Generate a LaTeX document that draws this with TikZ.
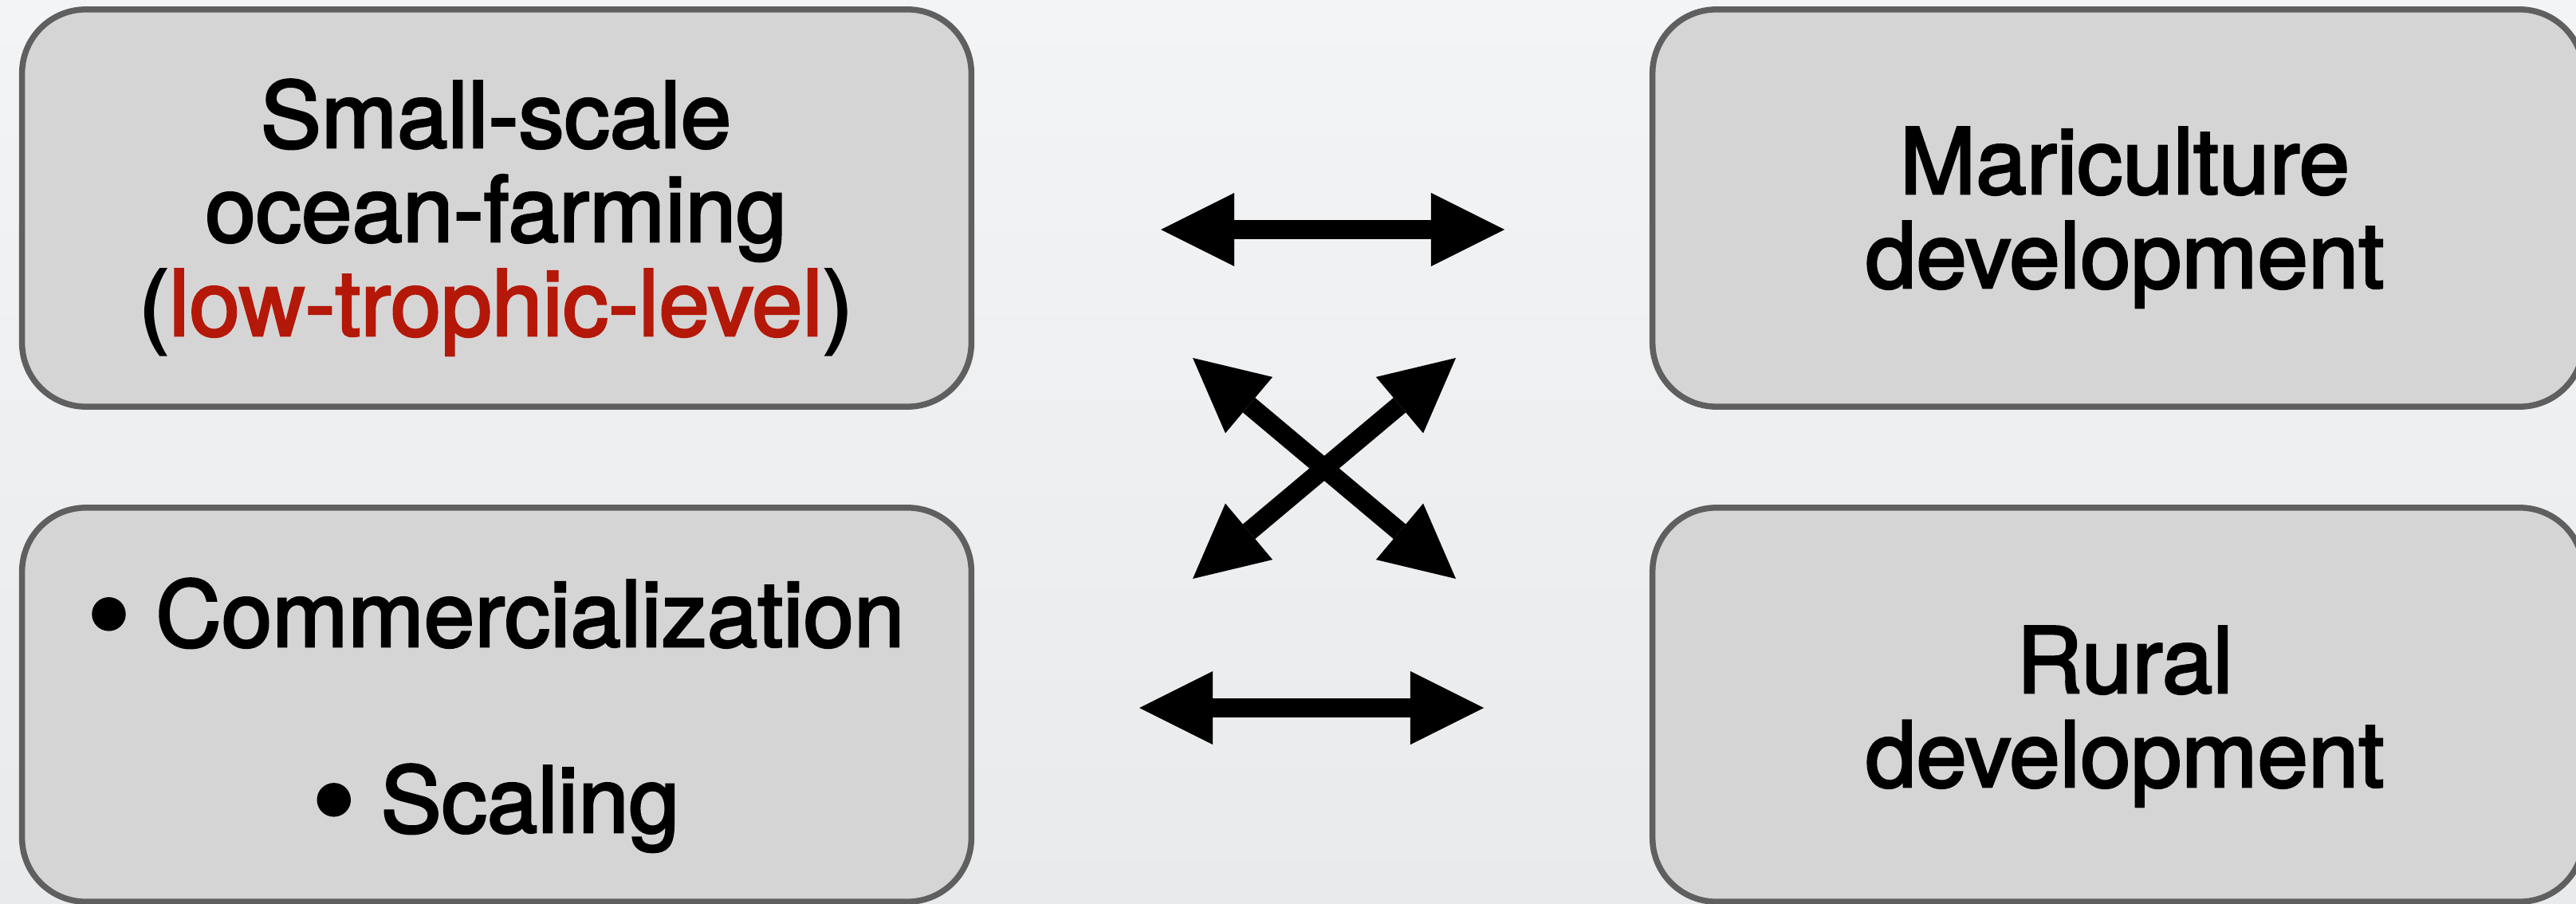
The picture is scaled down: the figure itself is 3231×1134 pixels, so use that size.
\documentclass[tikz,border=0pt]{standalone}
\usepackage{fontspec}
\setmainfont{TeX Gyre Heros}[FakeBold=2.5]
\usetikzlibrary{arrows.meta}
\definecolor{bgtop}{RGB}{242,244,246}
\definecolor{bgbot}{RGB}{232,234,236}
\definecolor{boxfill}{RGB}{213,213,213}
\definecolor{boxline}{RGB}{95,95,95}
\definecolor{redtxt}{RGB}{180,24,8}
\newcommand{\bigbul}{\raisebox{-0.11em}{\scalebox{1.35}{•}}}
\tikzset{
  panel/.style={draw=boxline, fill=boxfill, line width=0.075cm, rounded corners=0.8cm, inner sep=0pt},
  txt/.style={anchor=base, inner sep=0pt, font=\fontsize{32.5}{34}\selectfont},
  tip/.tip={Triangle[length=0.92cm, width=0.92cm, line width=0pt]},
  dbl/.style={line width=0.24cm, black, tip-tip}
}
\begin{document}
\begin{tikzpicture}[x=0.01cm, y=-0.01cm]
\useasboundingbox (0,0) rectangle (3231,1134);
\fill[top color=bgtop, bottom color=bgbot] (0,0) rectangle (3231,1134);
% boxes
\node[panel, minimum width=11.9cm, minimum height=4.98cm] (tl) at (623,261) {};
\node[panel, minimum width=11.67cm, minimum height=4.98cm] (tr) at (2656.5,261) {};
\node[panel, minimum width=11.9cm, minimum height=4.94cm] (bl) at (623,884) {};
\node[panel, minimum width=11.67cm, minimum height=4.94cm] (br) at (2656.5,884) {};
% texts
\node[txt] (tl1) at (622,185) {Small-scale};
\node[txt] (tl2) at (622,303) {ocean-farming};
\node[txt] (tl3) at (622,421) {(\textcolor{redtxt}{low-trophic-level})};
\node[txt] (tr1) at (2665,243) {Mariculture};
\node[txt] (tr2) at (2665,361) {development};
\node[txt] (bl1) at (622,811) {\bigbul{} Commercialization};
\node[txt] (bl2) at (622,1044) {\bigbul{} Scaling};
\node[txt] (br1) at (2665,869) {Rural};
\node[txt] (br2) at (2665,987) {development};
% arrow end points
\coordinate (h1a) at (1456,288);
\coordinate (h1b) at (1887,288);
\coordinate (h2a) at (1429,888);
\coordinate (h2b) at (1861,888);
\coordinate (xa) at (1496,449);
\coordinate (xb) at (1826,726);
\coordinate (xc) at (1826,449);
\coordinate (xd) at (1496,726);
\draw[dbl] (h1a) -- (h1b);
\draw[dbl] (h2a) -- (h2b);
\draw[dbl] (xa) -- (xb);
\draw[dbl] (xc) -- (xd);
\end{tikzpicture}
\end{document}
